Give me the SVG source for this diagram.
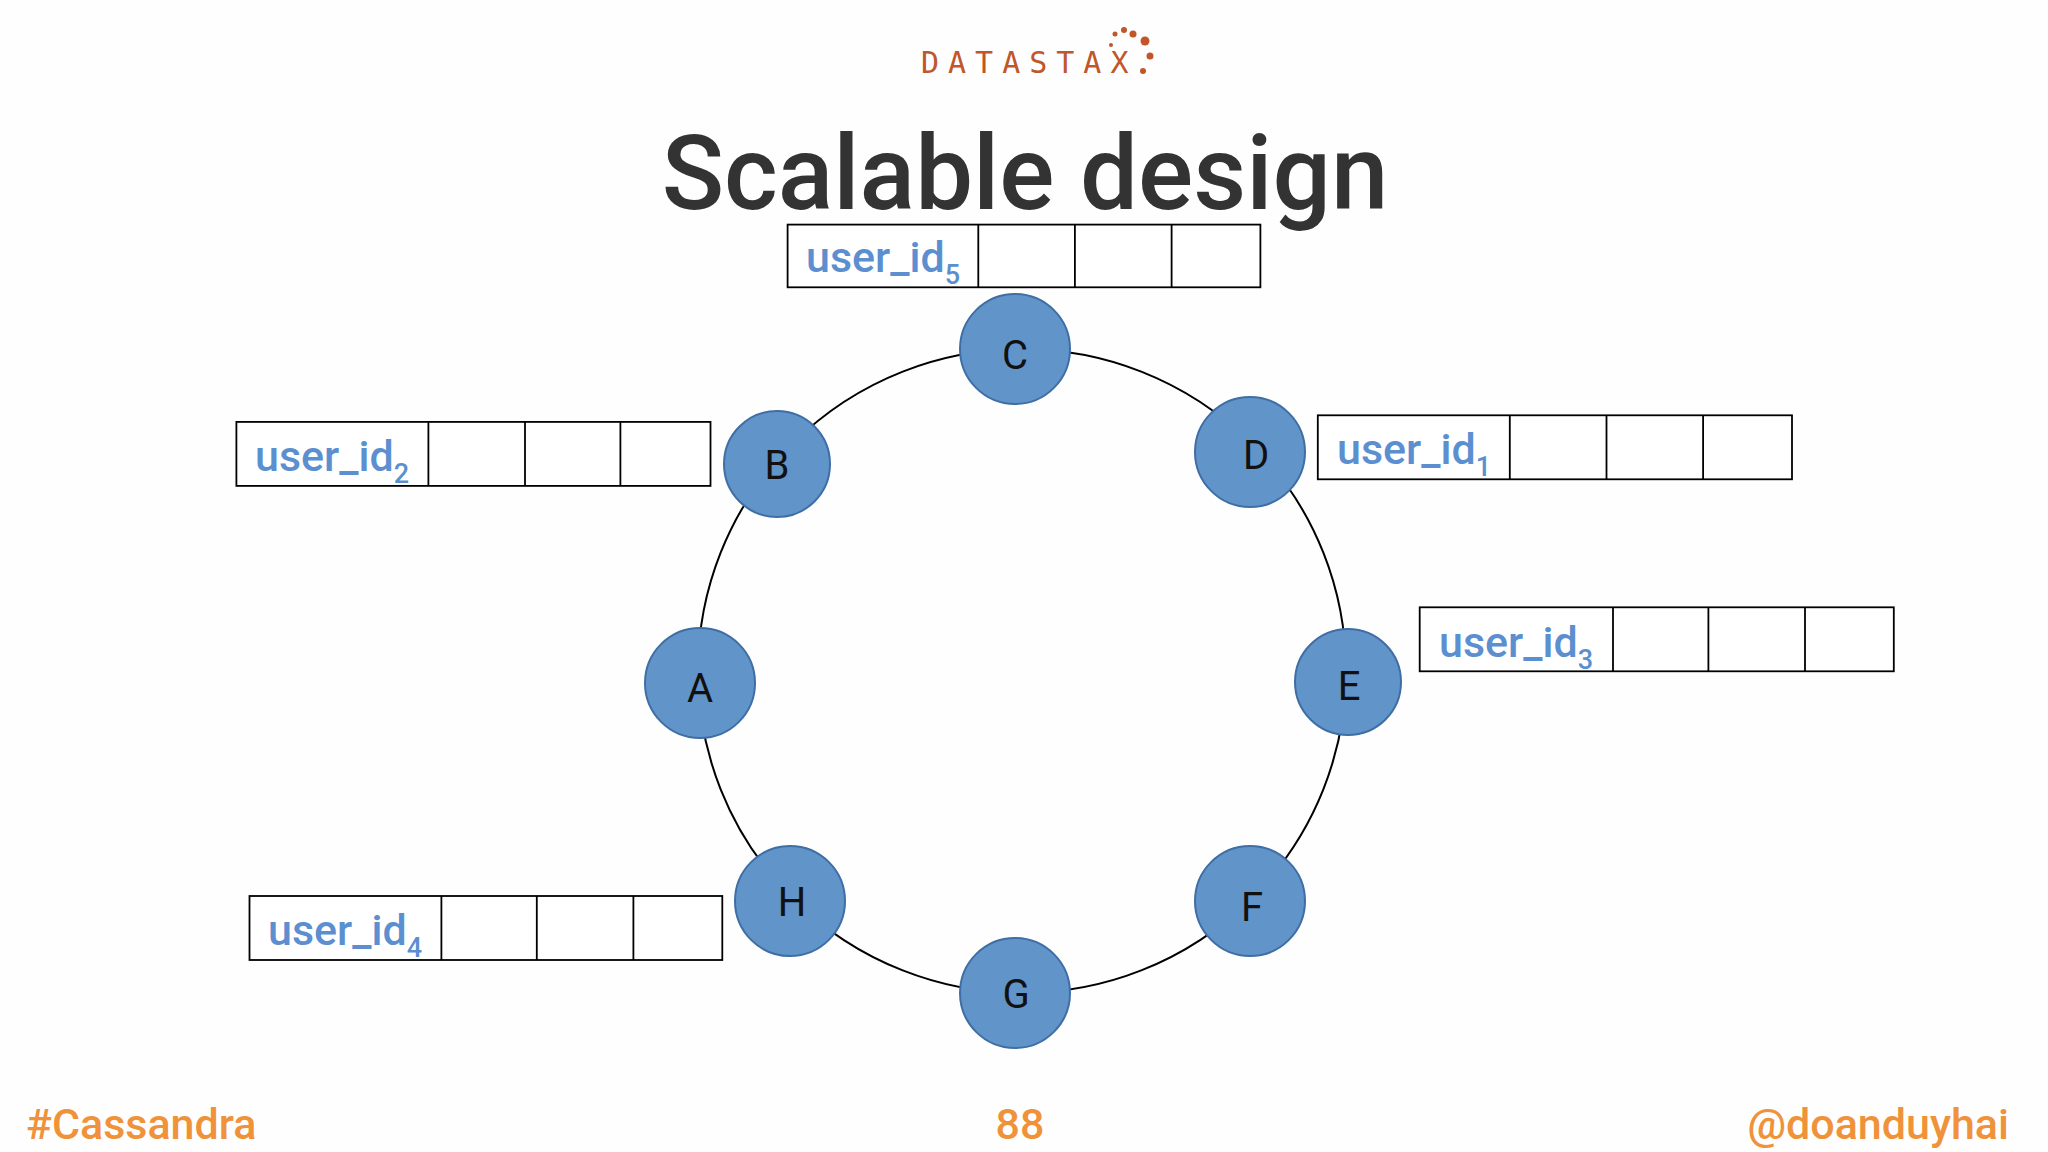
<svg xmlns="http://www.w3.org/2000/svg" width="2048" height="1152" viewBox="0 0 2048 1152">
<style>
.node{fill:#6194c9;stroke:#3f6ea5;stroke-width:2}
.nl{font-family:Roboto,"Liberation Sans",sans-serif;font-size:40px;fill:#111;text-anchor:middle}
.cell{fill:#fff;stroke:#000;stroke-width:1.8}
.uid{font-family:Roboto,"Liberation Sans",sans-serif;font-size:43px;fill:#5b8fd0;font-weight:500}
.sub{font-size:27px}
.foot{font-family:Roboto,"Liberation Sans",sans-serif;font-size:43px;fill:#f0923a;font-weight:500}
</style>
<rect width="2048" height="1152" fill="#fefefe"/>
<g id="logo">
<text x="921" y="73" font-family="'DejaVu Sans Mono',monospace" font-size="30" fill="#c0562a" letter-spacing="9">DATASTAX</text>
<circle cx="1115" cy="34" r="2.5" fill="#c0562a"/><circle cx="1124" cy="30" r="3" fill="#c0562a"/><circle cx="1133" cy="34" r="3.5" fill="#c0562a"/><circle cx="1145" cy="41" r="4.5" fill="#c0562a"/><circle cx="1150" cy="56" r="3.5" fill="#c0562a"/><circle cx="1143" cy="71" r="3" fill="#c0562a"/><circle cx="1111" cy="45" r="2" fill="#c0562a"/>
</g>
<text id="title" x="1025" y="209" text-anchor="middle" font-family="Roboto,'Liberation Sans',sans-serif" font-weight="500" font-size="103" fill="#333">Scalable design</text>
<g id="connectors">
<ellipse cx="1022" cy="671" rx="324" ry="322" fill="none" stroke="#000" stroke-width="2"/>
</g>
<g id="nC"><circle class="node" cx="1015" cy="349" r="55"/><text class="nl" x="1015" y="369">C</text></g>
<g id="nD"><circle class="node" cx="1250" cy="452" r="55"/><text class="nl" x="1256" y="469">D</text></g>
<g id="nE"><circle class="node" cx="1348" cy="682" r="53"/><text class="nl" x="1349" y="700">E</text></g>
<g id="nF"><circle class="node" cx="1250" cy="901" r="55"/><text class="nl" x="1252" y="921">F</text></g>
<g id="nG"><circle class="node" cx="1015" cy="993" r="55"/><text class="nl" x="1016" y="1008">G</text></g>
<g id="nH"><circle class="node" cx="790" cy="901" r="55"/><text class="nl" x="792" y="916">H</text></g>
<g id="nA"><circle class="node" cx="700" cy="683" r="55"/><text class="nl" x="700" y="702">A</text></g>
<g id="nB"><circle class="node" cx="777" cy="464" r="53"/><text class="nl" x="777" y="479">B</text></g>
<g id="t5"><rect class="cell" x="787.6" y="224.6" width="472.8" height="62.7"/><path d="M978.3 224.6V287.3M1074.9 224.6V287.3M1171.6 224.6V287.3" stroke="#000" stroke-width="1.8"/><text class="uid" x="806" y="272">user_id<tspan class="sub" dy="12">5</tspan></text></g>
<g id="t2"><rect class="cell" x="236.4" y="421.9" width="474.1" height="64"/><path d="M428.4 421.9V485.9M525 421.9V485.9M620.4 421.9V485.9" stroke="#000" stroke-width="1.8"/><text class="uid" x="255" y="471">user_id<tspan class="sub" dy="12">2</tspan></text></g>
<g id="t1"><rect class="cell" x="1317.8" y="415.3" width="474.2" height="64"/><path d="M1509.8 415.3V479.3M1606.5 415.3V479.3M1703.1 415.3V479.3" stroke="#000" stroke-width="1.8"/><text class="uid" x="1337" y="464">user_id<tspan class="sub" dy="12">1</tspan></text></g>
<g id="t3"><rect class="cell" x="1419.7" y="607.3" width="474.1" height="64"/><path d="M1613 607.3V671.3M1708.4 607.3V671.3M1805 607.3V671.3" stroke="#000" stroke-width="1.8"/><text class="uid" x="1439" y="657">user_id<tspan class="sub" dy="12">3</tspan></text></g>
<g id="t4"><rect class="cell" x="249.5" y="896" width="472.8" height="64"/><path d="M441.4 896V960M536.8 896V960M633.4 896V960" stroke="#000" stroke-width="1.8"/><text class="uid" x="268" y="945">user_id<tspan class="sub" dy="12">4</tspan></text></g>
<text class="foot" x="26" y="1139">#Cassandra</text>
<text class="foot" x="1020" y="1139" text-anchor="middle">88</text>
<text class="foot" x="2009" y="1139" text-anchor="end">@doanduyhai</text>
</svg>
